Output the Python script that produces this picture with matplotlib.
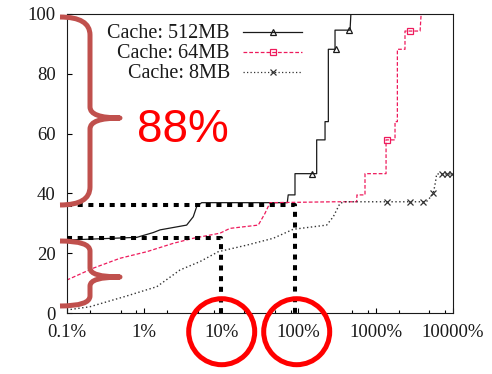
import matplotlib
matplotlib.use("Agg")
import matplotlib.pyplot as plt
from matplotlib.ticker import FixedLocator, LogLocator, NullFormatter
from matplotlib.patches import Ellipse, PathPatch
from matplotlib.path import Path
from matplotlib.lines import Line2D

# values (x = % of ..., y = % of cases)
x_512 = [0.1, 0.81, 1.32, 1.62, 3.58, 4.36, 4.83, 5.6, 72, 74, 90.6, 90.6, 173, 173,
         222, 222, 245, 245, 299, 299, 468, 480]
y_512 = [24.4, 25.3, 26.9, 27.8, 29.4, 32.2, 35.6, 36.9, 36.9, 39.5, 39.5, 46.6, 46.6, 57.9,
         57.9, 64.0, 64.0, 88.2, 88.2, 94.6, 94.6, 100]
mark_x_512 = [150, 305, 450]
mark_y_512 = [46.6, 88.2, 94.6]

x_64 = [0.1, 0.221, 0.49, 1.09, 2.4, 4.36, 9.7, 13, 30.3, 37, 43, 300, 570, 575, 731, 731,
        1370, 1370, 1790, 1790, 1920, 1920, 2410, 2410, 3780, 3900]
y_64 = [11, 15, 18.3, 20.5, 23.3, 25, 26.7, 28.3, 29.4, 33.3, 36.9, 37.2, 37.2, 39.5, 39.5, 46.6,
        46.6, 57.9, 57.9, 64, 64, 88.2, 88.2, 94.3, 94.3, 100]
mark_x_64 = [1420, 2800]
mark_y_64 = [57.9, 94.3]

x_8 = [0.1, 0.2, 0.6, 1.47, 2.94, 5.33, 9.2, 21.5, 47.5, 86, 233, 284, 347, 403, 4160, 4700,
       5610, 6000, 6200, 10000]
y_8 = [1, 2.1, 5.7, 8.8, 14.4, 17.2, 20.5, 22.7, 25, 28, 29.4, 32.2, 36.7, 37.2, 37.2, 37.5,
       40, 44, 46.5, 46.5]
mark_x_8 = [1400, 2800, 4160, 5610, 7210, 8360, 9700]
mark_y_8 = [37.2, 37.2, 37.2, 40, 46.5, 46.5, 46.5]

labels = ["Cache: 512MB", "Cache: 64MB", "Cache: 8MB"]
x_ticks = [0.1, 1, 10, 100, 1000, 10000]
x_tick_labels = ["0.1%", "1%", "10%", "100%", "1000%", "10000%"]
y_ticks = [0, 20, 40, 60, 80, 100]

# hand-drawn highlight marks
low_y, high_y = 25, 36
low_x, high_x = 10, 91

BLACK = "#1a1a1a"
PINK = "#ee1a5c"
GRAY = "#333333"
BRACE = "#c0504d"

plt.rcParams['font.family'] = 'serif'
plt.rcParams['font.serif'] = ['Liberation Serif', 'DejaVu Serif']

W, H = 492, 374
fig = plt.figure(figsize=(W / 100, H / 100), dpi=100)
ax = fig.add_axes([66.7 / W, 1 - 313 / H, 386 / W, 299 / H])

ax.plot(x_512, y_512, color=BLACK, lw=0.9)
ax.plot(mark_x_512, mark_y_512, ls='none', marker='^', ms=4.5, mfc='none', mec=BLACK, mew=0.9)
ax.plot(x_64, y_64, color=PINK, lw=0.9, ls=(0, (3, 1.6)))
ax.plot(mark_x_64, mark_y_64, ls='none', marker='s', ms=5, mfc='none', mec=PINK, mew=0.9)
ax.plot(x_8, y_8, color=GRAY, lw=1.0, ls=(0, (1, 1.8)))
ax.plot(mark_x_8, mark_y_8, ls='none', marker='x', ms=5, mec=GRAY, mew=0.9)

ax.set_xscale('log')
ax.set_xlim(0.1, 10000)
ax.set_ylim(0, 100)
ax.xaxis.set_major_locator(FixedLocator(x_ticks))
ax.set_xticklabels(x_tick_labels)
ax.xaxis.set_minor_locator(LogLocator(base=10, subs=(2, 5, 8)))
ax.xaxis.set_minor_formatter(NullFormatter())
ax.set_yticks(y_ticks)
ax.tick_params(which='major', direction='in', length=3.6, width=0.8, labelsize=13.5,
               labelcolor=BLACK, pad=8)
ax.tick_params(which='minor', direction='in', length=2.4, width=0.8)
for s in ax.spines.values():
    s.set_linewidth(0.8)
    s.set_color(BLACK)

# legend drawn by hand: text right-aligned, sample to the right
styles = [dict(color=BLACK, ls='-', marker='^', mfc='none'),
          dict(color=PINK, ls=(0, (3, 1.6)), marker='s', mfc='none'),
          dict(color=GRAY, ls=(0, (1, 1.8)), marker='x')]
sizes = [4.5, 5, 5]
line_y = [0.941, 0.874, 0.807]
for lab, st, ms, ly in zip(labels, styles, sizes, line_y):
    ax.text(0.423, ly - 0.022, lab, transform=ax.transAxes, ha='right', va='baseline',
            fontsize=14.5, color=BLACK)
    ax.add_line(Line2D([0.4575, 0.609], [ly, ly], transform=ax.transAxes, lw=0.9,
                       color=st['color'], ls=st['ls']))
    ax.add_line(Line2D([0.534], [ly], transform=ax.transAxes, ls='none', marker=st['marker'],
                       ms=ms, mfc=st.get('mfc', st['color']), mec=st['color'], mew=0.9))

# black dotted guide lines
dots = dict(color='black', lw=2.9, ls=(0, (1.25, 1.4)), dash_capstyle='butt', zorder=5,
            clip_on=False)
ax.plot([0.1, high_x, high_x], [high_y, high_y, 0], **dots)
ax.plot([0.1, low_x, low_x], [low_y, low_y, 0], **dots)


def px(x, y):
    return (x / W, 1 - y / H)


def brace(top, bot, cusp, r1, r2, xl=60, xa=90, xc=120):
    pts = [(xl, top), (xa, top), (xa, top + r1), (xa, cusp - r2), (xa, cusp), (xc, cusp),
           (xa, cusp), (xa, cusp + r2), (xa, bot - r1), (xa, bot), (xl, bot)]
    codes = [Path.MOVETO, Path.CURVE3, Path.CURVE3, Path.LINETO, Path.CURVE3, Path.CURVE3,
             Path.CURVE3, Path.CURVE3, Path.LINETO, Path.CURVE3, Path.CURVE3]
    p = Path([px(*q) for q in pts], codes)
    fig.add_artist(PathPatch(p, fill=False, ec=BRACE, lw=3.6, transform=fig.transFigure,
                             capstyle='butt', joinstyle='round'))


brace(17, 205, 118, 18, 11)
brace(241, 306, 277, 10, 9)

fig.text(*px(183, 141.7), "88%", color='red', fontsize=33, family='Liberation Sans',
         ha='center', va='baseline')

for cx in (221.7, 296.7):
    fig.add_artist(Ellipse(px(cx, 331.7), 66 / W, 66 / H, fill=False, ec='red', lw=3.6,
                           transform=fig.transFigure))

fig.savefig("out.png", dpi=100)
